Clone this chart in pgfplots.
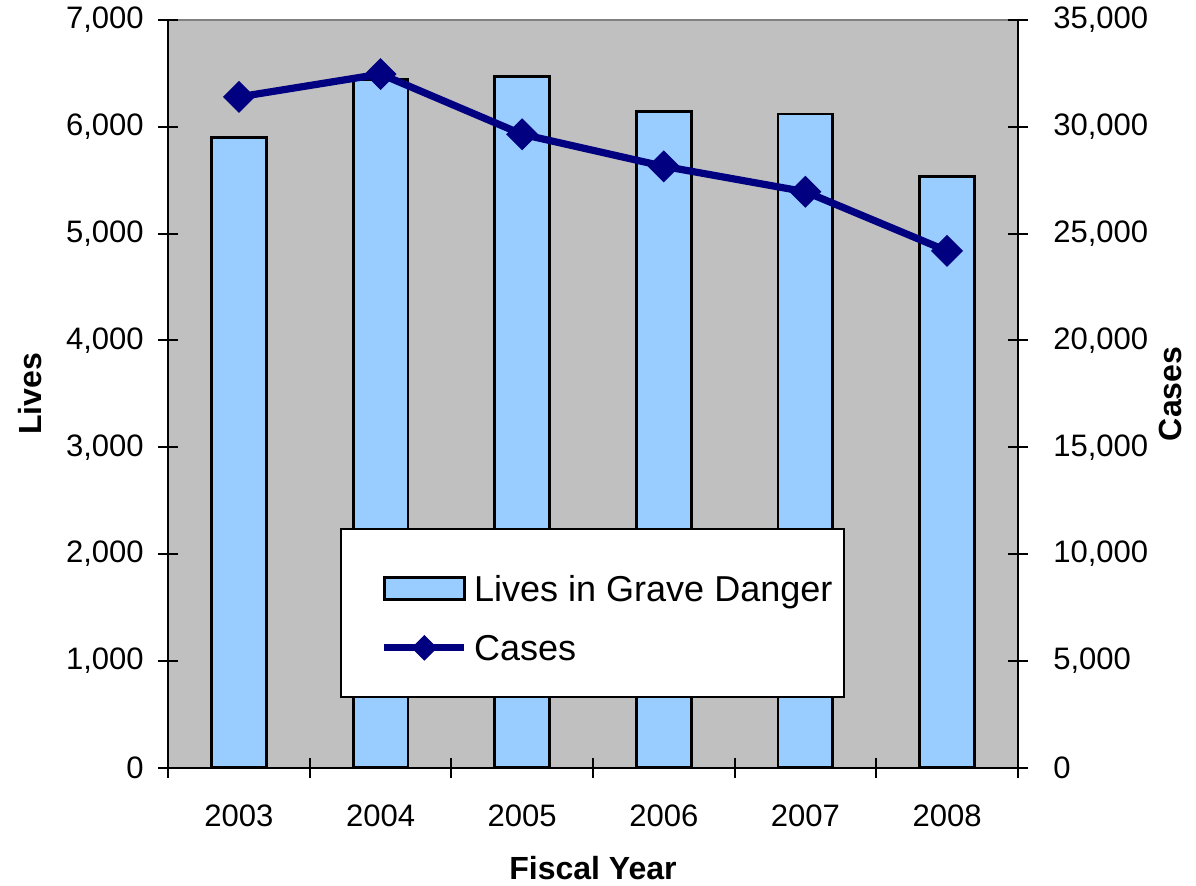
\documentclass[border=0pt]{standalone}
\usepackage{pgfplots}
\pgfplotsset{compat=1.18}
\usepackage{fontspec}
\setmainfont{Liberation Sans}
\definecolor{barfill}{HTML}{99CCFF}
\definecolor{linecol}{HTML}{000080}
\definecolor{bgc}{HTML}{C0C0C0}
\definecolor{topline}{HTML}{808080}
\pgfplotsset{
  common/.style={
    scale only axis, width=424.5pt, height=373.5pt,
    at={(0,0)}, anchor=south west,
    xmin=-0.5, xmax=5.5,
    /pgf/number format/assume math mode=true,
    /pgf/number format/1000 sep={,},
    scaled y ticks=false,
    tick style={line width=1pt, black},
    major tick length=10pt, minor tick length=10pt,
    tick align=center,
    tick label style={font=\fontsize{15.5}{18}\selectfont},
    axis line style={line width=1pt, black, -},
  },
  barleg/.style={legend image code/.code={\path (-13.7pt,10.95pt) (-13.7pt,0pt);
    \draw[##1] (0pt,-5.5pt) rectangle (40pt,5.5pt);}},
  lineleg/.style={legend image code/.code={\path (-13.7pt,0pt);
    \draw[##1] (0pt,0pt) -- (40pt,0pt);
    \path[##1, mark size=4.3pt] plot coordinates {(20pt,0pt)};}},
}
\begin{document}
\begin{tikzpicture}
\path[use as bounding box] (-84pt,-59pt) rectangle (513.5pt,383.5pt);
\begin{axis}[common,
  axis background/.style={fill=bgc, draw=topline, line width=1pt},
  axis x line*=bottom, axis y line*=left,
  ymin=0, ymax=7000, ytick={0,1000,...,7000},
  xtick={0,...,5}, xticklabels={2003,2004,2005,2006,2007,2008},
  every major x tick/.append style={draw=none},
  minor xtick={-0.5,0.5,...,5.5},
  xticklabel style={anchor=center, yshift=-19pt},
  yticklabel style={anchor=east, inner sep=0pt, xshift=-7pt},
  xlabel={Fiscal Year}, ylabel={Lives},
  every axis x label/.style={at={(axis description cs:0.5,-0.1339)}, anchor=center, font=\fontsize{16}{19}\selectfont\bfseries},
  every axis y label/.style={at={(axis description cs:-0.1625,0.5)}, rotate=90, anchor=center, font=\fontsize{16}{19}\selectfont\bfseries},
]
\addplot[ybar, bar width=27.4pt, fill=barfill, draw=black, line width=1.4pt]
  coordinates {(0,5900) (1,6445) (2,6470) (3,6140) (4,6120) (5,5535)};
\end{axis}
\begin{axis}[common,
  axis x line=none, axis y line*=right,
  ymin=0, ymax=35000, ytick={0,5000,...,35000},
  yticklabel style={anchor=west, inner sep=0pt, xshift=12.5pt},
  ylabel={Cases},
  every axis y label/.style={at={(axis description cs:1.1802,0.5)}, rotate=90, anchor=center, font=\fontsize{16}{19}\selectfont\bfseries},
  legend cell align=left,
  legend style={at={(0.2026,0.32)}, anchor=north west, draw=black, line width=1pt, fill=white,
    font=\fontsize{18}{21.6}\selectfont, inner xsep=6pt, inner ysep=18pt,
    row sep=16.6pt, column sep=3pt,
    nodes={inner sep=0pt, text height=12.9pt, text depth=0pt}},
]
\addlegendimage{fill=barfill, draw=black, line width=1.4pt, barleg}
\addlegendentry{Lives in Grave Danger}
\addplot[color=linecol, line width=3.6pt, mark=square*, mark size=5.4pt,
  mark options={rotate=45, solid, line width=0.5pt, fill=linecol}, lineleg]
  coordinates {(0,31400) (1,32470) (2,29650) (3,28150) (4,26960) (5,24190)};
\addlegendentry{Cases}
\end{axis}
\end{tikzpicture}
\end{document}
